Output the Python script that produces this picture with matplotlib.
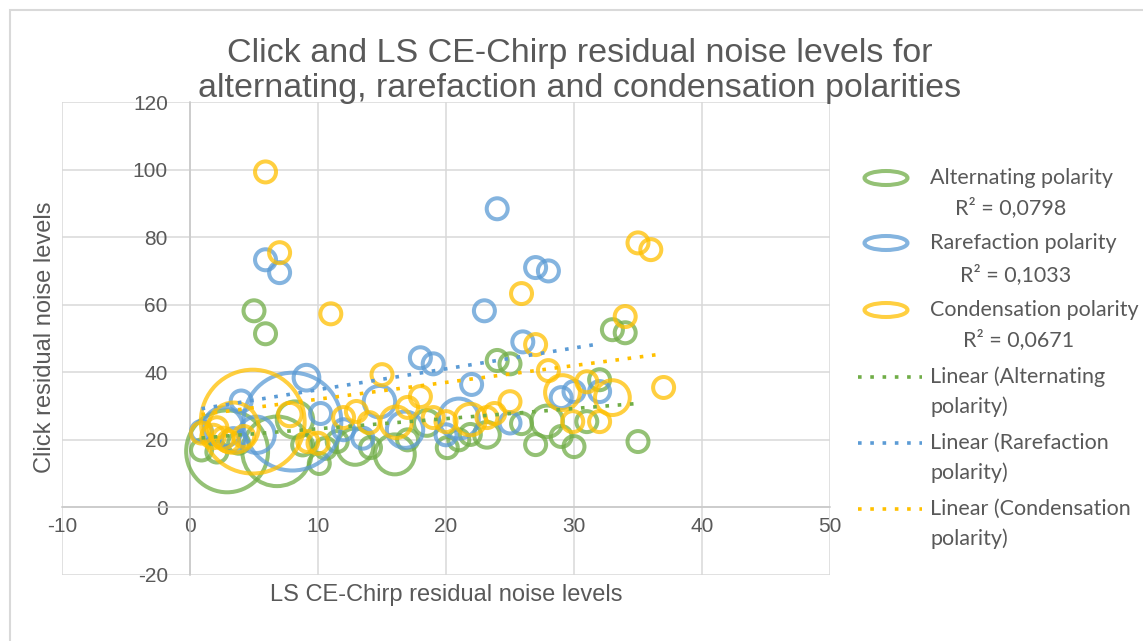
"""Bubble chart of click vs LS CE-Chirp residual noise levels per stimulus polarity."""
import numpy as np
import matplotlib

matplotlib.use("Agg")
import matplotlib.pyplot as plt
from matplotlib.lines import Line2D
from matplotlib.patches import Ellipse, Rectangle

# Alternating polarity: LS CE-Chirp level, click level, bubble size
alt_x = [0.9, 2.1, 2.9, 3.8, 5.0, 5.9, 6.8, 8.2, 8.8, 10.1, 10.6, 11.5, 12.9, 14.1, 16.0, 17.0, 18.5,
         20.1, 21.0, 21.9, 23.2, 24.0, 25.0, 25.9, 27.0, 27.9, 29.0, 30.0, 31.0, 32.0, 33.0, 34.0, 35.0]
alt_y = [17.0, 16.4, 16.6, 19.0, 58.2, 51.4, 16.6, 26.0, 18.5, 13.0, 17.5, 19.5, 18.0, 17.7, 15.7, 20.0, 25.0,
         17.7, 20.0, 21.6, 21.5, 43.5, 42.5, 24.8, 18.6, 25.5, 21.0, 18.0, 25.4, 37.8, 52.6, 51.7, 19.5]
alt_size = [4, 4, 61, 4, 4, 4, 44, 12, 4, 4, 4, 4, 12, 4, 14.5, 4, 6,
            4, 4, 4, 6, 4, 4, 4, 4, 9, 4, 4, 4, 4, 4, 4, 4]

# Rarefaction polarity
rar_x = [0.9, 2.6, 3.4, 4.0, 5.2, 5.9, 7.0, 8.0, 9.1, 10.2, 12.0, 13.5, 14.8, 16.8, 18.0, 19.0, 20.0,
         21.0, 22.0, 23.0, 24.0, 25.0, 26.0, 27.0, 28.0, 29.0, 30.0, 32.0]
rar_y = [22.5, 23.8, 20.0, 31.5, 21.5, 73.3, 69.5, 25.4, 38.4, 27.8, 23.0, 20.5, 31.3, 23.0, 44.3, 42.5, 21.5,
         26.3, 36.4, 58.2, 88.4, 25.0, 49.0, 71.0, 70.0, 32.5, 34.3, 34.3]
rar_size = [4, 14, 5, 4, 12, 4, 4, 87, 6, 4, 4, 4, 9, 12, 4, 4, 4,
            14.5, 4, 4, 4, 4, 4, 4, 4, 4, 4, 4]

# Condensation polarity
con_x = [0.9, 1.8, 2.1, 2.6, 3.0, 3.4, 4.2, 4.9, 5.9, 7.0, 7.8, 9.2, 10.0, 11.0, 12.0, 13.0, 14.0, 15.0,
         16.1, 17.0, 18.0, 19.0, 20.0, 21.9, 23.2, 23.8, 25.0, 25.9, 27.0, 28.0, 29.1, 29.9, 31.0, 32.0,
         33.0, 34.0, 35.0, 36.0, 37.0]
con_y = [22.0, 21.0, 23.6, 20.5, 19.5, 23.6, 21.0, 25.4, 99.3, 75.4, 27.5, 19.5, 19.0, 57.3, 26.6, 28.4,
         25.1, 39.3, 25.2, 29.6, 32.8, 26.6, 25.4, 26.0, 26.6, 27.8, 31.3, 63.3, 48.2, 40.5, 34.0, 25.4,
         37.2, 25.4, 32.5, 56.5, 78.3, 76.3, 35.5]
con_size = [4, 5, 4, 4, 4, 23, 4, 98, 4, 4, 5, 4, 4, 4, 4, 4, 4, 4,
            9, 4, 4, 4, 4, 9, 4, 4, 4, 4, 4, 4, 11, 4, 4, 4,
            11, 4, 4, 4, 4]

labels = ["Alternating polarity", "Rarefaction polarity", "Condensation polarity"]
r2_texts = ["R² = 0,0798", "R² = 0,1033", "R² = 0,0671"]
colors = ["#70AD47", "#5B9BD5", "#FFC000"]

W, H = 1143, 641
TEXT = "#595959"
BUBBLE = 57.0  # points^2 per size unit

plt.rcParams["font.family"] = ["Liberation Sans", "DejaVu Sans"]
plt.rcParams["axes.unicode_minus"] = False


def fx(px):
    return px / W


def fy(py):
    return 1 - py / H


fig = plt.figure(figsize=(W / 100, H / 100), dpi=100)
ax = fig.add_axes([fx(62), fy(575), fx(830) - fx(62), fy(102) - fy(575)])

series = [(alt_x, alt_y, alt_size), (rar_x, rar_y, rar_size), (con_x, con_y, con_size)]
for (xs, ys, sz), color in zip(series, colors):
    ax.scatter(xs, ys, s=np.asarray(sz) * BUBBLE, facecolors="none", edgecolors=color,
               linewidths=2.9, alpha=0.75, zorder=3)

dotted = dict(lw=2.6, linestyle=(0, (1, 2.4)), dash_capstyle="butt")
for (xs, ys, _), color in zip(series, colors):
    coef = np.polyfit(xs, ys, 1)
    ends = np.array([min(xs), max(xs)])
    ax.plot(ends, np.polyval(coef, ends), color=color, zorder=4, **dotted)

ax.set_xlim(-10, 50)
ax.set_ylim(-20, 120)
ax.set_xticks(range(-10, 51, 10))
ax.set_yticks(range(-20, 121, 20))
ax.grid(True, color="#d9d9d9", lw=1.1)
ax.set_axisbelow(True)
for side in ("top", "right"):
    ax.spines[side].set_visible(False)
ax.spines["left"].set_position(("data", 0))
ax.spines["bottom"].set_position(("data", 0))
for side in ("left", "bottom"):
    ax.spines[side].set_color("#c8c8c8")
    ax.spines[side].set_linewidth(1.1)
ax.tick_params(length=0, labelsize=15, labelcolor=TEXT)
ax.tick_params(axis="y", pad=16)
ax.tick_params(axis="x", pad=7)

# chart frame
fig.add_artist(Rectangle((fx(10), -0.1), 1.2, fy(10) + 0.1, transform=fig.transFigure,
                         fill=False, edgecolor="#d9d9d9", lw=1.5))

fig.text(fx(580), fy(62), "Click and LS CE-Chirp residual noise levels for",
         ha="center", va="baseline", fontsize=24.5, color=TEXT)
fig.text(fx(580), fy(97), "alternating, rarefaction and condensation polarities",
         ha="center", va="baseline", fontsize=24.5, color=TEXT)
fig.text(fx(446), fy(595), "LS CE-Chirp residual noise levels",
         ha="center", va="center", fontsize=17, color=TEXT)
fig.text(fx(45), fy(337), "Click residual noise levels", rotation=90,
         ha="center", va="center", fontsize=17, color=TEXT)

# legend
leg_font = dict(fontsize=15.5, color=TEXT, va="center", family=["Lato", "DejaVu Sans"])
bubble_rows = [178, 243, 310]
r2_rows = [208, 275, 340]
r2_left = [955, 960, 963]
for label, r2, color, yb, yr, xr in zip(labels, r2_texts, colors, bubble_rows, r2_rows, r2_left):
    fig.add_artist(Ellipse((fx(886), fy(yb)), 43 / W, 14 / H, transform=fig.transFigure,
                           fill=False, edgecolor=color, lw=2.9, alpha=0.75))
    fig.text(fx(930), fy(yb), label, **leg_font)
    fig.text(fx(xr), fy(yr), r2, **leg_font)

line_rows = [377, 443, 509]
for label, color, yl in zip(labels, colors, line_rows):
    fig.add_artist(Line2D([fx(858), fx(922)], [fy(yl)] * 2, transform=fig.transFigure,
                          color=color, **dotted))
    first = label.split(" ")[0]
    fig.text(fx(930), fy(yl), f"Linear ({first}", **leg_font)
    fig.text(fx(930), fy(yl + 30), "polarity)", **leg_font)

fig.savefig("out.png", dpi=100)
plt.close(fig)
